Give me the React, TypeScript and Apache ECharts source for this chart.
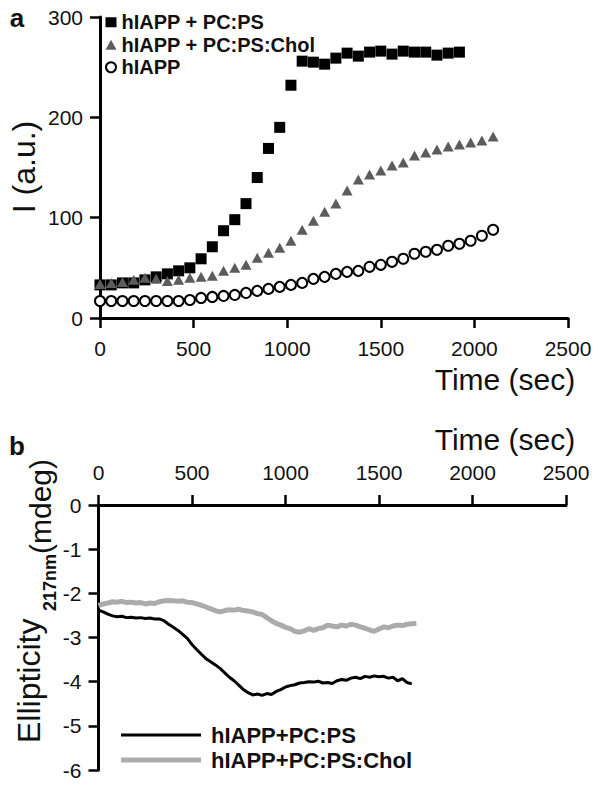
import React, { useEffect, useRef } from "react";
import * as echarts from "echarts";

// Panel a: fluorescence time course (sec)
const timesA = [0, 60, 120, 180, 240, 300, 360, 420, 480, 540, 600, 660, 720, 780, 840, 900, 960, 1020, 1080, 1140, 1200, 1260, 1320, 1380, 1440, 1500, 1560, 1620, 1680, 1740, 1800, 1860, 1920, 1980, 2040, 2100];
const pcpsVals = [33, 33, 35, 35, 38, 41, 44, 47, 50, 59, 71, 87, 98, 114, 140, 169, 190, 232, 256, 255, 253, 259, 264, 261, 265, 266, 263, 266, 265, 265, 262, 264, 265];
const cholVals = [34, 35, 36, 38, 40, 39, 37, 38, 40, 41, 42, 47, 50, 53, 60, 65, 70, 77, 88, 97, 106, 114, 127, 138, 143, 147, 152, 155, 162, 165, 168, 171, 173, 175, 177, 181];
const hiappVals = [17, 17, 17, 17, 17, 17, 17, 17, 18, 20, 21, 22, 23, 25, 27, 29, 31, 33, 35, 39, 41, 44, 46, 47, 51, 53, 56, 59, 64, 66, 68, 72, 74, 77, 82, 88];

// Panel b: CD ellipticity at 217 nm (sec)
const timesB = [0, 25, 50, 75, 100, 125, 150, 175, 200, 225, 250, 275, 300, 325, 350, 375, 400, 425, 450, 475, 500, 525, 550, 575, 600, 625, 650, 675, 700, 725, 750, 775, 800, 825, 850, 875, 900, 925, 950, 975, 1000, 1025, 1050, 1075, 1100, 1125, 1150, 1175, 1200, 1225, 1250, 1275, 1300, 1325, 1350, 1375, 1400, 1425, 1450, 1475, 1500, 1525, 1550, 1575, 1600, 1625, 1650, 1675, 1700];
const cdPcps = [-2.38, -2.42, -2.47, -2.51, -2.53, -2.52, -2.55, -2.54, -2.56, -2.55,
  -2.57, -2.56, -2.58, -2.58, -2.62, -2.70, -2.77, -2.84, -2.93, -3.02,
  -3.16, -3.27, -3.38, -3.48, -3.55, -3.62, -3.70, -3.80, -3.90, -3.98,
  -4.08, -4.18, -4.25, -4.30, -4.28, -4.31, -4.27, -4.29, -4.22, -4.18,
  -4.12, -4.09, -4.07, -4.03, -4.02, -4.00, -4.01, -3.99, -4.03, -4.02,
  -4.04, -3.98, -3.95, -3.97, -3.92, -3.90, -3.93, -3.88, -3.90, -3.87,
  -3.89, -3.88, -3.92, -3.90, -3.98, -3.93, -4.02, -4.05];
const cdChol = [-2.28, -2.24, -2.22, -2.19, -2.20, -2.18, -2.21, -2.20, -2.22, -2.21,
  -2.24, -2.22, -2.23, -2.19, -2.17, -2.16, -2.17, -2.18, -2.17, -2.20,
  -2.21, -2.24, -2.27, -2.31, -2.35, -2.39, -2.42, -2.39, -2.37, -2.38,
  -2.36, -2.39, -2.40, -2.42, -2.46, -2.48, -2.55, -2.62, -2.68, -2.72,
  -2.77, -2.80, -2.86, -2.88, -2.85, -2.80, -2.84, -2.80, -2.78, -2.72,
  -2.74, -2.76, -2.72, -2.74, -2.70, -2.72, -2.76, -2.79, -2.83, -2.86,
  -2.81, -2.76, -2.78, -2.74, -2.72, -2.73, -2.70, -2.69, -2.68];

const seriesNamesA = ["hIAPP + PC:PS", "hIAPP + PC:PS:Chol", "hIAPP"];
const seriesNamesB = ["hIAPP+PC:PS", "hIAPP+PC:PS:Chol"];
const timeTicks = [0, 500, 1000, 1500, 2000, 2500];

const FONT = '"Liberation Sans", Arial, Helvetica, sans-serif';
const INK = "#111";
const GRAY_LINE = "#ababab";

function zip(xs: number[], ys: number[]) {
  return ys.map((v, i) => [xs[i], v]);
}

export default function App() {
  const ref = useRef<HTMLDivElement>(null);
  useEffect(() => {
    if (!ref.current) return;
    const chart = echarts.init(ref.current, undefined, { renderer: "svg" });
    const axisLine = { show: true, lineStyle: { color: "#000", width: 3 } };
    const axisTick = { show: true, inside: false, length: 10, lineStyle: { color: "#000", width: 2.5 } };
    const label = { color: INK, fontSize: 21, fontFamily: FONT, formatter: (v: number) => String(v) };
    const legendB = (name: string, top: number, h: number) => ({
      orient: "vertical", left: 121, top, padding: 0, itemGap: 0,
      itemWidth: 80, itemHeight: h, icon: "rect",
      textStyle: { fontSize: 22, fontWeight: "bold", color: INK, fontFamily: FONT, lineHeight: 25, padding: [0, 0, 0, 5] },
      data: [name],
    });
    chart.setOption({
      animation: false,
      backgroundColor: "#fff",
      textStyle: { fontFamily: FONT },
      grid: [
        { left: 100, top: 17, width: 468, height: 301, containLabel: false, outerBoundsMode: "none" },
        { left: 98.5, top: 505, width: 467.5, height: 265, containLabel: false, outerBoundsMode: "none" },
      ],
      xAxis: [
        {
          type: "value", gridIndex: 0, min: timeTicks[0], max: timeTicks[timeTicks.length - 1], interval: 500,
          position: "bottom", axisLine, axisTick, splitLine: { show: false },
          axisLabel: { ...label, margin: 20 },
        },
        {
          type: "value", gridIndex: 1, min: timeTicks[0], max: timeTicks[timeTicks.length - 1], interval: 500,
          position: "top", axisLine, axisTick, splitLine: { show: false },
          axisLabel: { ...label, margin: 22 },
        },
      ],
      yAxis: [
        {
          type: "value", gridIndex: 0, min: 0, max: 300, interval: 100,
          axisLine, axisTick, splitLine: { show: false },
          axisLabel: { ...label, margin: 17 },
        },
        {
          type: "value", gridIndex: 1, min: -6, max: 0, interval: 1,
          axisLine, axisTick, splitLine: { show: false },
          axisLabel: { ...label, margin: 17 },
        },
      ],
      legend: [
        {
          orient: "vertical", left: 105, top: 11, padding: 0, itemGap: 0,
          itemWidth: 11, itemHeight: 10,
          textStyle: { fontSize: 20, fontWeight: "bold", color: INK, fontFamily: FONT, lineHeight: 22.5 },
          data: [
            { name: seriesNamesA[0], icon: "rect" },
            { name: seriesNamesA[1], icon: "triangle" },
            { name: seriesNamesA[2], icon: "emptyCircle" },
          ],
        },
        legendB(seriesNamesB[0], 722.5, 3),
        legendB(seriesNamesB[1], 747.5, 5),
      ],
      series: [
        {
          name: seriesNamesA[0], type: "scatter", xAxisIndex: 0, yAxisIndex: 0,
          symbol: "rect", symbolSize: 11, itemStyle: { color: "#000", opacity: 1 },
          data: zip(timesA, pcpsVals),
        },
        {
          name: seriesNamesA[1], type: "scatter", xAxisIndex: 0, yAxisIndex: 0,
          symbol: "triangle", symbolSize: [11, 10], itemStyle: { color: "#5c5c5c", opacity: 1 },
          data: zip(timesA, cholVals),
        },
        {
          name: seriesNamesA[2], type: "scatter", xAxisIndex: 0, yAxisIndex: 0,
          symbol: "emptyCircle", symbolSize: 10,
          itemStyle: { color: "#000", borderColor: "#000", borderWidth: 1.6, opacity: 1 },
          data: zip(timesA, hiappVals),
        },
        {
          name: seriesNamesB[0], type: "line", xAxisIndex: 1, yAxisIndex: 1,
          symbol: "none", showSymbol: false,
          lineStyle: { color: "#000", width: 3 }, itemStyle: { color: "#000" },
          data: zip(timesB, cdPcps),
        },
        {
          name: seriesNamesB[1], type: "line", xAxisIndex: 1, yAxisIndex: 1,
          symbol: "none", showSymbol: false,
          lineStyle: { color: GRAY_LINE, width: 5 }, itemStyle: { color: GRAY_LINE },
          data: zip(timesB, cdChol),
        },
      ],
      graphic: [
        { type: "text", x: 17, y: 18, style: { text: "a", fontSize: 26, fontWeight: "bold", fontFamily: FONT, fill: INK, align: "center", verticalAlign: "middle" } },
        { type: "text", x: 17, y: 446, style: { text: "b", fontSize: 26, fontWeight: "bold", fontFamily: FONT, fill: INK, align: "center", verticalAlign: "middle" } },
        { type: "text", x: 505, y: 379, style: { text: "Time (sec)", fontSize: 30, fontFamily: FONT, fill: INK, align: "center", verticalAlign: "middle" } },
        { type: "text", x: 505, y: 439, style: { text: "Time (sec)", fontSize: 30, fontFamily: FONT, fill: INK, align: "center", verticalAlign: "middle" } },
        { type: "text", x: 24, y: 167, rotation: Math.PI / 2, style: { text: "I (a.u.)", fontSize: 32, fontFamily: FONT, fill: INK, align: "center", verticalAlign: "middle" } },
        { type: "text", x: 29, y: 743, rotation: Math.PI / 2, style: { text: "Ellipticity", fontSize: 32, fontFamily: FONT, fill: INK, align: "left", verticalAlign: "middle" } },
        { type: "text", x: 50, y: 611, rotation: Math.PI / 2, style: { text: "217nm", fontSize: 18, fontWeight: "bold", fontFamily: FONT, fill: INK, align: "left", verticalAlign: "middle" } },
        { type: "text", x: 40, y: 554, rotation: Math.PI / 2, style: { text: "(mdeg)", fontSize: 30, fontFamily: FONT, fill: INK, align: "left", verticalAlign: "middle" } },
      ],
    });
    return () => chart.dispose();
  }, []);
  return (
    <div
      ref={ref}
      style={{ position: "fixed", left: 0, top: 0, width: 602, height: 787, background: "#fff" }}
    />
  );
}
